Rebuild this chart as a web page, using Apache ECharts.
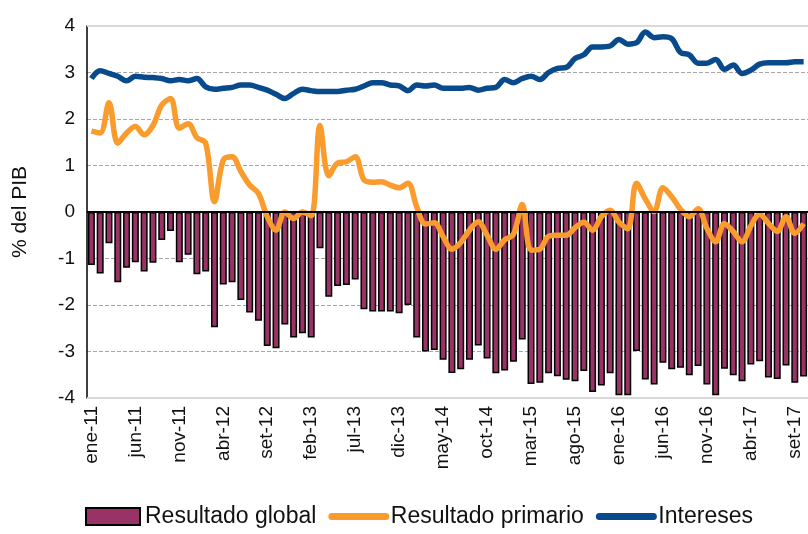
<!DOCTYPE html>
<html>
<head>
<meta charset="utf-8">
<script src="https://cdn.jsdelivr.net/npm/echarts@6/dist/echarts.min.js"></script>
<style>
  html, body { margin: 0; padding: 0; background: #fff; }
  #chart { width: 808px; height: 534px; }
</style>
</head>
<body>
<div id="chart"></div>
<script>
// meses ene-11 .. oct-17
var meses = ['ene', 'feb', 'mar', 'abr', 'may', 'jun', 'jul', 'ago', 'set', 'oct', 'nov', 'dic'];
var categorias = [];
for (var a = 11; a <= 17; a++) {
    for (var m = 0; m < 12; m++) {
        if (a === 17 && m > 9) break;
        categorias.push(meses[m] + '-' + a);
    }
}

// Resultado global (barras)
var resultadoGlobal = [
    -1.14, -1.32, -0.67, -1.51, -1.20, -1.08, -1.28, -1.09, -0.60, -0.41,
    -1.08, -0.92, -1.34, -1.28, -2.48, -1.56, -1.51, -1.89, -2.16, -2.34,
    -2.88, -2.93, -2.42, -2.70, -2.61, -2.70, -0.78, -1.82, -1.59, -1.57,
    -1.45, -2.09, -2.14, -2.14, -2.14, -2.18, -2.00, -2.70, -3.00, -2.97,
    -3.18, -3.46, -3.38, -3.18, -2.87, -3.15, -3.47, -3.41, -3.22, -2.74,
    -3.70, -3.67, -3.47, -3.53, -3.61, -3.64, -3.42, -3.87, -3.73, -3.47,
    -3.94, -3.94, -2.99, -3.60, -3.71, -3.24, -3.38, -3.35, -3.51, -3.31,
    -3.71, -3.94, -3.37, -3.51, -3.64, -3.28, -3.21, -3.56, -3.59, -3.30,
    -3.67, -3.54
];

// Resultado primario
var resultadoPrimario = [
    1.74, 1.70, 2.35, 1.48, 1.70, 1.84, 1.66, 1.86, 2.30, 2.44,
    1.80, 1.90, 1.60, 1.48, 0.22, 1.12, 1.19, 0.87, 0.58, 0.40,
    -0.10, -0.39, 0.00, -0.14, 0.00, -0.08, 1.86, 0.78, 1.05, 1.08,
    1.19, 0.69, 0.64, 0.65, 0.58, 0.52, 0.62, 0.11, -0.26, -0.23,
    -0.53, -0.80, -0.66, -0.39, -0.21, -0.50, -0.80, -0.60, -0.48, 0.16,
    -0.82, -0.80, -0.52, -0.50, -0.50, -0.34, -0.22, -0.39, -0.10, 0.04,
    -0.22, -0.36, 0.62, 0.28, 0.01, 0.52, 0.33, 0.06, -0.10, 0.07,
    -0.35, -0.64, -0.25, -0.42, -0.64, -0.30, -0.05, -0.24, -0.42, -0.10,
    -0.46, -0.25
];

// Intereses
var intereses = [
    2.87, 3.04, 2.98, 2.92, 2.82, 2.92, 2.90, 2.89, 2.87, 2.82,
    2.85, 2.82, 2.87, 2.69, 2.64, 2.66, 2.68, 2.73, 2.73, 2.68,
    2.62, 2.53, 2.44, 2.55, 2.64, 2.61, 2.59, 2.59, 2.59, 2.62,
    2.64, 2.71, 2.78, 2.78, 2.73, 2.71, 2.61, 2.73, 2.71, 2.73,
    2.66, 2.66, 2.66, 2.68, 2.62, 2.66, 2.68, 2.85, 2.78, 2.87,
    2.92, 2.85, 3.00, 3.09, 3.11, 3.30, 3.38, 3.55, 3.55, 3.57,
    3.71, 3.61, 3.64, 3.87, 3.75, 3.77, 3.73, 3.43, 3.38, 3.20,
    3.20, 3.28, 3.07, 3.16, 2.98, 3.05, 3.18, 3.21, 3.21, 3.21,
    3.23, 3.23
];

var fuente = 'Liberation Sans';

var chart = echarts.init(document.getElementById('chart'));
chart.setOption({
    animation: false,
    textStyle: { fontFamily: fuente },
    grid: { left: 87, right: 0, top: 26, bottom: 136 },
    legend: {
        bottom: 1,
        left: 80,
        itemGap: 12,
        itemWidth: 54,
        itemHeight: 17,
        textStyle: { fontSize: 23, color: '#111', fontFamily: fuente },
        data: [
            { name: 'Resultado global', icon: 'rect' },
            { name: 'Resultado primario', itemStyle: { opacity: 0 }, lineStyle: { width: 7, cap: 'round' } },
            { name: 'Intereses', itemStyle: { opacity: 0 }, lineStyle: { width: 7, cap: 'round' } }
        ]
    },
    xAxis: {
        type: 'category',
        data: categorias,
        axisLine: { show: false, onZero: false },
        axisTick: { show: false },
        axisLabel: {
            interval: 4,
            rotate: 90,
            fontSize: 19,
            color: '#111',
            margin: 8
        }
    },
    yAxis: {
        type: 'value',
        min: -4,
        max: 4,
        interval: 1,
        name: '% del PIB',
        nameLocation: 'middle',
        nameGap: 56,
        nameTextStyle: { fontSize: 21, color: '#111' },
        axisLine: { show: true, lineStyle: { color: '#000', width: 1.5 } },
        axisTick: { show: false },
        axisLabel: { fontSize: 19, color: '#111', margin: 12 },
        splitLine: { lineStyle: { color: '#a6a6a6', type: 'dashed', width: 1 } }
    },
    series: [
        {
            name: 'Resultado global',
            type: 'bar',
            data: resultadoGlobal,
            barWidth: 7,
            itemStyle: { color: '#993366', borderColor: '#000', borderWidth: 1.5 },
            markLine: {
                silent: true,
                symbol: 'none',
                label: { show: false },
                z: 1,
                data: [
                    { yAxis: 4, lineStyle: { color: '#d9d9d9', type: 'solid', width: 2 } },
                    { yAxis: -4, lineStyle: { color: '#d9d9d9', type: 'solid', width: 2 } }
                ]
            }
        },
        {
            name: 'Resultado primario',
            type: 'line',
            data: resultadoPrimario,
            smooth: 0.35,
            symbol: 'none',
            z: 3,
            lineStyle: { color: '#F99B2D', width: 5.5 },
            itemStyle: { color: '#F99B2D' }
        },
        {
            name: 'Intereses',
            type: 'line',
            data: intereses,
            smooth: 0.35,
            symbol: 'none',
            z: 3,
            lineStyle: { color: '#084A8C', width: 5.5 },
            itemStyle: { color: '#084A8C' },
            markLine: {
                silent: true,
                symbol: 'none',
                label: { show: false },
                data: [
                    { yAxis: 0, lineStyle: { color: '#000', type: 'solid', width: 2 } }
                ]
            }
        }
    ]
});
</script>
</body>
</html>
